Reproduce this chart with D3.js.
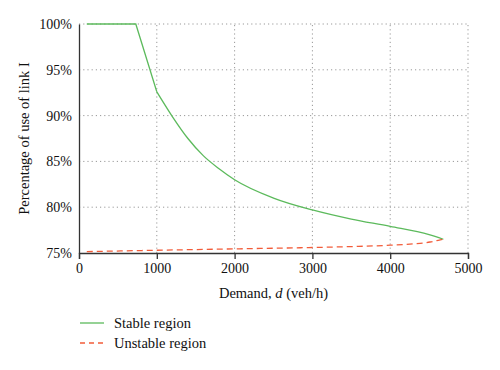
<!DOCTYPE html>
<html>
<head>
<meta charset="utf-8">
<script src="https://cdn.jsdelivr.net/npm/d3@7"></script>
<style>
  body { margin: 0; background: #fff; }
  text { font-family: "Liberation Serif", "DejaVu Serif", serif; fill: #111; }
</style>
</head>
<body>
<script>
/* Data */

var xTicks = [0, 1000, 2000, 3000, 4000, 5000];
var yTicks = [75, 80, 85, 90, 95, 100];

var stableDemand = [100, 730, 1000, 1200, 1400, 1600, 1800, 2000, 2500, 3000, 3500, 4000, 4500, 4683];
var stablePct    = [100, 100, 92.6, 89.9, 87.5, 85.6, 84.2, 83.0, 81.0, 79.7, 78.7, 77.9, 77.0, 76.5];

var unstableDemand = [100, 1000, 2000, 3000, 3500, 4000, 4300, 4512, 4598, 4683];
var unstablePct    = [75.15, 75.3, 75.45, 75.6, 75.7, 75.85, 76.0, 76.2, 76.35, 76.5];

var legendLabels = ["Stable region", "Unstable region"];

/* Chart */

var width = 500, height = 370;
var margin = {left: 79, right: 32, top: 24, bottom: 117};

var svg = d3.select("body").append("svg")
    .attr("width", width)
    .attr("height", height);

var x = d3.scaleLinear().domain([0, 5000]).range([margin.left, width - margin.right]);
var y = d3.scaleLinear().domain([75, 100]).range([height - margin.bottom, margin.top]);

// dotted grid
svg.append("g").selectAll("line.v")
    .data(xTicks.slice(1))
    .enter().append("line")
    .attr("x1", function(d) { return x(d); })
    .attr("x2", function(d) { return x(d); })
    .attr("y1", y(75))
    .attr("y2", y(100))
    .attr("stroke", "#999")
    .attr("stroke-width", 1)
    .attr("stroke-dasharray", "1.2,3");

svg.append("g").selectAll("line.h")
    .data(yTicks.slice(1))
    .enter().append("line")
    .attr("x1", x(0))
    .attr("x2", x(5000))
    .attr("y1", function(d) { return y(d); })
    .attr("y2", function(d) { return y(d); })
    .attr("stroke", "#999")
    .attr("stroke-width", 1)
    .attr("stroke-dasharray", "1.2,3");

// axes
var xAxis = svg.append("g")
    .attr("transform", "translate(0," + y(75) + ")")
    .call(d3.axisBottom(x).tickValues(xTicks).tickSize(6).tickPadding(4).tickFormat(d3.format("d")));

var yAxis = svg.append("g")
    .attr("transform", "translate(" + x(0) + ",0)")
    .call(d3.axisLeft(y).tickValues(yTicks).tickSize(0).tickPadding(7).tickFormat(function(d) { return d + "%"; }));

[xAxis, yAxis].forEach(function(a) {
    a.select(".domain").attr("stroke", "#333").attr("stroke-width", 1.3);
    a.selectAll(".tick line").attr("stroke", "#333").attr("stroke-width", 1.3);
    a.selectAll(".tick text")
        .attr("font-family", "Liberation Serif, serif")
        .attr("font-size", 14)
        .attr("fill", "#111");
});

// lines
var lineLin = d3.line()
    .x(function(d) { return x(d[0]); })
    .y(function(d) { return y(d[1]); });

var lineSmooth = d3.line()
    .x(function(d) { return x(d[0]); })
    .y(function(d) { return y(d[1]); })
    .curve(d3.curveMonotoneX);

var stable = stableDemand.map(function(d, i) { return [d, stablePct[i]]; });
var unstable = unstableDemand.map(function(d, i) { return [d, unstablePct[i]]; });

// flat part + straight drop up to the kink at 1000, then the smooth decay
svg.append("path")
    .datum(stable.slice(0, 3))
    .attr("d", lineLin)
    .attr("fill", "none")
    .attr("stroke", "#5cba5c")
    .attr("stroke-width", 1.3);

svg.append("path")
    .datum(stable.slice(2))
    .attr("d", lineSmooth)
    .attr("fill", "none")
    .attr("stroke", "#5cba5c")
    .attr("stroke-width", 1.3);

svg.append("path")
    .datum(unstable)
    .attr("d", lineSmooth)
    .attr("fill", "none")
    .attr("stroke", "#f25c3a")
    .attr("stroke-width", 1.3)
    .attr("stroke-dasharray", "6,4");

// axis titles
svg.append("text")
    .attr("transform", "translate(29," + ((y(75) + y(100)) / 2) + ") rotate(-90)")
    .attr("text-anchor", "middle")
    .attr("font-size", 14.5)
    .text("Percentage of use of link I");

var xl = svg.append("text")
    .attr("x", (x(0) + x(5000)) / 2)
    .attr("y", 298)
    .attr("text-anchor", "middle")
    .attr("font-size", 14.5);
xl.append("tspan").text("Demand, ");
xl.append("tspan").attr("font-style", "italic").text("d");
xl.append("tspan").text(" (veh/h)");

// legend
var legend = svg.append("g");
legendLabels.forEach(function(lbl, i) {
    var ly = 323 + i * 20;
    legend.append("line")
        .attr("x1", 80).attr("x2", 104)
        .attr("y1", ly).attr("y2", ly)
        .attr("stroke", i == 0 ? "#5cba5c" : "#f25c3a")
        .attr("stroke-width", 1.3)
        .attr("stroke-dasharray", i == 0 ? null : "5,4");
    legend.append("text")
        .attr("x", 114)
        .attr("y", ly + 4.5)
        .attr("font-size", 14.5)
        .text(lbl);
});
</script>
</body>
</html>
